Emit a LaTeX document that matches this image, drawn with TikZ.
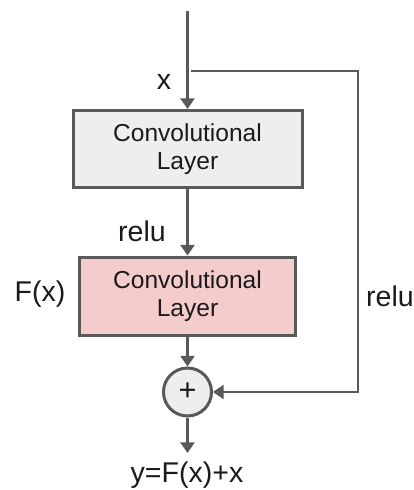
\documentclass[tikz,border=0pt]{standalone}
\usepackage{fontspec}
\setmainfont{Liberation Sans}
\usetikzlibrary{arrows.meta}
\definecolor{linegray}{HTML}{595959}
\definecolor{boxgray}{HTML}{EEEEEE}
\definecolor{boxpink}{HTML}{F4CCCC}
\definecolor{txt}{HTML}{1A1A1A}
\begin{document}
\begin{tikzpicture}[x=0.75pt,y=-0.75pt,
  convbox/.style={draw=linegray,line width=2.25pt,align=center,inner sep=0pt,
    font=\fontsize{18.4pt}{21.5pt}\selectfont,text=txt},
  lbl/.style={font=\fontsize{21.4pt}{25pt}\selectfont,text=txt,inner sep=0pt},
  conn/.style={draw=linegray,line width=1.75pt,-{Triangle[length=8pt,width=10.5pt]}}]
\useasboundingbox (0,0) rectangle (414,490);
\node[convbox,fill=boxgray,minimum width=171.75pt,minimum height=57.75pt] (c1) at (187.5,149) {Convolutional\\Layer};
\node[convbox,fill=boxpink,minimum width=162pt,minimum height=58.5pt] (c2) at (187.5,296) {Convolutional\\Layer};
\node[circle,draw=linegray,line width=2.25pt,fill=boxgray,minimum size=36pt,inner sep=0pt,
  font=\fontsize{23pt}{25pt}\selectfont,text=txt] (add) at (187.5,392) {+};
\coordinate (in) at (187.5,11);
\coordinate (split) at (191,71);
\coordinate (tr) at (358,71);
\coordinate (br) at (358,392);
\coordinate (out) at (187.5,453);
\draw[conn] (in) -- (c1.north);
\draw[conn] (c1.south) -- (c2.north);
\draw[conn] (c2.south) -- (add.north);
\draw[conn] (split) -- (tr) -- (br) -- (add.east);
\draw[conn] (add.south) -- (out);
\node[lbl] (lx) at (164,82) {x};
\node[lbl] (lrelu1) at (142,231) {relu};
\node[lbl] (lfx) at (40,294) {F(x)};
\node[lbl] (lrelu2) at (390,296) {relu};
\node[lbl] (ly) at (187,475) {y=F(x)+x};
\end{tikzpicture}
\end{document}
